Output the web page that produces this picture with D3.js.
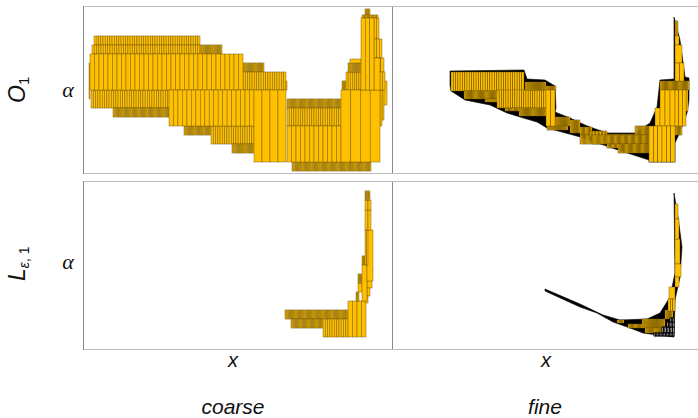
<!DOCTYPE html>
<html><head><meta charset="utf-8">
<script src="https://cdn.jsdelivr.net/npm/d3@7"></script>
<style>html,body{margin:0;padding:0;background:#fff}svg{display:block}
text{font-family:"Liberation Sans",Arial,sans-serif;fill:#111}</style></head><body>
<svg id="c" width="698" height="418"></svg>
<script>
const rowNames = ["O1", "Leps1"];
const colNames = ["coarse", "fine"];
// Each cell block: [xStart, xEnd, alphaStart, alphaEnd, bins]
const coarseO1 = [
 [11,117,128,137,47],[9,117,119,128,48],[117,139,119,128,20],[6,7,74,110,1],
 [8,87,65,83,35],[30,87,56,65,50],[101,128,38,47,24],[128,171,29,47,19],[149,171,20,29,20],
 [160,181,101,110,19],[160,203,83,101,19],[203,204,83,92,1],
 [204,258,65,74,48],[204,258,47,65,24],[209,288,2,11,70],
 [259,263,83,92,4],[263,278,83,101,7],[265,278,101,110,12],[267,278,110,114,1],
 [282,287,155,164,5],[279,295,155,158,12],
 [7,160,83,119,34],[86,171,47,83,19],[171,203,11,83,4],[204,258,11,47,12],
 [297,304,68,92,1],[297,301,53,83,2],[297,299,47,83,1],[258,297,11,83,4],
 [291,296,134,155,2],[291,299,115,134,3],[291,301,101,115,3],[297,302,83,101,2],[291,297,83,115,1],[278,291,83,155,3]
];
const coarseL = [
 [202,265,30,39,56],[208,240,21,30,28],[240,265,12,30,11],[265,283,12,48,4],
 [273,276,48,57,3],[275,279,57,66,1],[275,279,66,75,5],[279,285,84,93,6],
 [284,289,61,68,1],[284,287,53,61,1],[282,285,46,53,1],
 [279,284,48,84,1],[284,290,68,119,1],[282,285,84,119,2],
 [282,288,119,139,2],[282,288,139,149,2],[282,287,149,158,6]
];
const fineO1Hull = [[58,102],[132,103],[135,94],[153,93],[163,87],[164,65],[163,61],[178,55],[193,48],[198,46],[215,40],[243,40],[258,50],[265,66],[268,93],[282,94],[282,156],[288,133],[293,96],[297,95],[297,73],[295,60],[288,41],[283,30],[283,11],[257,11],[257,13],[226,23],[188,36],[181,38],[155,45],[145,51],[128,56],[115,60],[98,68],[73,73],[59,82],[58,88]];
const fineO1 = [
 [59,132,82,101,32],[72,105,74,82,30],[93,105,71,74,12],[105,154,65,83,22],[127,154,57,65,25],[113,127,62,65,12],
 [133,154,83,91,20],[154,164,83,87,9],[163,178,47,56,14],[155,176,43,47,20],[178,188,40,53,9],[188,200,38,46,10],
 [198,215,37,42,12],[215,243,38,39,20],[243,258,38,47,13],[200,215,29,37,14],
 [188,258,29,38,60],[226,258,20,29,28],[215,226,25,29,9],
 [268,297,83,92,26],[283,290,38,47,6],[283,286,137,152,3],
 [283,287,128,137,1],[283,290,110,128,1],[283,292,92,110,2],
 [154,163,47,83,2],[263,268,47,65,1],[268,283,47,83,3],[294,296,62,83,1],[283,294,47,83,3],[257,283,11,47,6]
];
const fineLHull = [[153,60],[188,45],[211,34],[228,29],[255,30],[268,36],[278,52],[283,76],[282,156],[286,132],[290,102],[288,72],[283,49],[282,12],[265,14],[251,16],[238,21],[221,27],[205,36],[188,42],[153,58]];
const fineL = [
 [225,232,26,29,6],[236,250,21,25,12],[250,273,21,30,22],[253,273,16,21,18],[273,281,30,39,7],
 [283,286,130,145,1],[283,288,85,110,1],[283,287,110,130,1],[283,289,72,85,1],[283,287,62,72,1],[277,283,50,62,1],[276,283,38,50,3]
];
const fineLMesh = [[270,282,16,22,8],[275,282,22,27,5],[262,282,13,16,14],[278,282,27,31,3]];
const panelX = [[0,309,83,392],[0,306,392,698]];
const panelY = [[0,167,173,6],[0,168,349,181]];

const svg = d3.select("#c");
const edge = "rgba(92,70,0,0.6)";
function block(g, rows, x, y, o) {
  o = o || {};
  rows.forEach(r => {
    const w = (r[1]-r[0])/r[4];
    g.append("g").selectAll("rect").data(d3.range(r[4])).join("rect")
      .attr("x", i => x(r[0]+i*w)).attr("width", x(r[0]+w)-x(r[0]))
      .attr("y", y(r[3])).attr("height", y(r[2])-y(r[3]))
      .attr("fill", o.fill || "#ffc000").attr("stroke", o.stroke || edge).attr("stroke-width", o.sw || 0.65);
  });
}
const line = d3.line().curve(d3.curveLinearClosed);
[[coarseO1,null,null],[fineO1,fineO1Hull,null],[coarseL,null,null],[fineL,fineLHull,fineLMesh]].forEach((p,k)=>{
  const c = k%2, rr = k>>1;
  const x = d3.scaleLinear().domain(panelX[c].slice(0,2)).range(panelX[c].slice(2));
  const y = d3.scaleLinear().domain(panelY[rr].slice(0,2)).range(panelY[rr].slice(2));
  const g = svg.append("g");
  if (p[1]) g.append("path").attr("d", line(p[1].map(d=>[x(d[0]),y(d[1])]))).attr("fill","#000").attr("stroke","#000").attr("stroke-width",0.6);
  block(g, p[0], x, y);
  if (p[2]) block(g, p[2], x, y, {fill:"#fff",stroke:"#000",sw:0.9});
  const [x0,x1]=x.range(), [yb,yt]=y.range();
  const f = g.append("g").attr("fill","none");
  f.append("path").attr("d",`M${x0},${yt+.5}H${x1}M${x0},${yb+.5}H${x1}`).attr("stroke","#bdbdbd");
  if(c===0) f.append("path").attr("d",`M${x0+.5},${yt}V${yb+1}M${x1+.5},${yt}V${yb+1}`).attr("stroke","#8a8a8a");
});

function t(x,y,s,size,opt){const e=svg.append("text").attr("x",x).attr("y",y).attr("text-anchor","middle").attr("font-size",size).attr("font-style","italic").text(s);if(opt)opt(e);return e;}
t(233,367,"x",20);t(546,367,"x",20);
t(233,414,colNames[0],21);t(545,414,colNames[1],21);
[92,264].forEach(y=>t(68,y+5,"α",22,e=>e.style("font-family","'Liberation Serif',serif")));
const o=svg.append("text").attr("transform","translate(25,103) rotate(-90)").attr("font-size",23);
o.append("tspan").attr("font-style","italic").text("O");
o.append("tspan").attr("font-size",15).attr("dy",4).text("1");
const l=svg.append("text").attr("transform","translate(25,281) rotate(-90)").attr("font-size",23);
l.append("tspan").attr("font-style","italic").text("L");
l.append("tspan").attr("font-size",14).attr("font-style","italic").attr("dy",4).text("ε");
l.append("tspan").attr("font-size",14).text(", 1");
</script></body></html>
